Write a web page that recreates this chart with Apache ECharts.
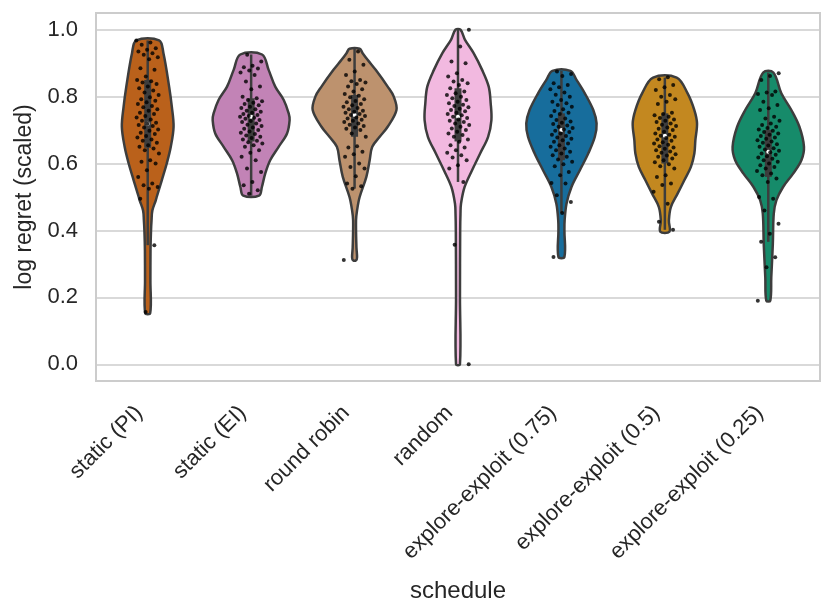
<!DOCTYPE html>
<html>
<head>
<meta charset="utf-8">
<script src="https://cdn.jsdelivr.net/npm/echarts@6/dist/echarts.min.js"></script>
<style>
  html, body { margin: 0; padding: 0; background: #fff; }
  #chart { width: 831px; height: 616px; }
</style>
</head>
<body>
<div id="chart"></div>
<script>
// categories of the x axis
const categories = ['static (PI)', 'static (EI)', 'round robin', 'random',
  'explore-exploit (0.75)', 'explore-exploit (0.5)', 'explore-exploit (0.25)']

const yTicks = [0.0, 0.2, 0.4, 0.6, 0.8, 1.0]

const colors = ['#ba611b', '#c283b6', '#bd926e', '#f2b9e0', '#176d9c', '#c38820', '#168b6a']

// violin outline: [value, half width as share of the band]
const profilePI = [[0.153, 0.024], [0.25, 0.026], [0.34, 0.027], [0.40, 0.032], [0.43, 0.037], [0.46, 0.045],
  [0.49, 0.078], [0.50, 0.087], [0.55, 0.136], [0.60, 0.184], [0.65, 0.223], [0.71, 0.250], [0.77, 0.233],
  [0.83, 0.207], [0.93, 0.152], [0.968, 0.110]]
const profileEI = [[0.504, 0.076], [0.53, 0.104], [0.57, 0.136], [0.61, 0.184], [0.65, 0.266], [0.69, 0.347],
  [0.73, 0.372], [0.75, 0.363], [0.79, 0.315], [0.83, 0.233], [0.88, 0.169], [0.926, 0.105]]
const profileRR = [[0.311, 0.015], [0.32, 0.024], [0.35, 0.018], [0.43, 0.014], [0.46, 0.024], [0.50, 0.049],
  [0.56, 0.114], [0.61, 0.146], [0.65, 0.171], [0.68, 0.243], [0.71, 0.320], [0.76, 0.405], [0.80, 0.379],
  [0.83, 0.320], [0.88, 0.204], [0.91, 0.126], [0.93, 0.078], [0.943, 0.049]]
const profileRand = [[0.0, 0.019], [0.2, 0.019], [0.40, 0.021], [0.45, 0.024], [0.48, 0.029], [0.53, 0.064],
  [0.58, 0.136], [0.63, 0.214], [0.68, 0.291], [0.73, 0.323], [0.78, 0.316], [0.83, 0.297], [0.88, 0.233],
  [0.93, 0.151], [0.97, 0.068], [1.0, 0.024]]
const profileEE75 = [[0.321, 0.029], [0.40, 0.029], [0.43, 0.031], [0.48, 0.049], [0.53, 0.097], [0.58, 0.178],
  [0.63, 0.259], [0.68, 0.323], [0.72, 0.340], [0.76, 0.308], [0.81, 0.226], [0.85, 0.146], [0.877, 0.087]]
const profileEE50 = [[0.396, 0.044], [0.43, 0.039], [0.47, 0.058], [0.51, 0.123], [0.55, 0.188], [0.59, 0.252],
  [0.63, 0.285], [0.67, 0.295], [0.72, 0.311], [0.76, 0.285], [0.81, 0.220], [0.857, 0.114]]
const profileEE25 = [[0.19, 0.019], [0.26, 0.029], [0.36, 0.044], [0.45, 0.053], [0.49, 0.078], [0.53, 0.143],
  [0.57, 0.240], [0.61, 0.320], [0.65, 0.345], [0.71, 0.301], [0.76, 0.223], [0.81, 0.126], [0.872, 0.049]]
const profiles = [profilePI, profileEI, profileRR, profileRand, profileEE75, profileEE50, profileEE25]

// inner box: [low whisker, q1, median, q3, high whisker]
const boxStats = [
  [0.356, 0.647, 0.719, 0.850, 0.968],
  [0.504, 0.666, 0.740, 0.795, 0.926],
  [0.525, 0.680, 0.745, 0.805, 0.943],
  [0.545, 0.666, 0.740, 0.825, 1.000],
  [0.452, 0.610, 0.700, 0.750, 0.877],
  [0.402, 0.600, 0.683, 0.750, 0.857],
  [0.366, 0.560, 0.635, 0.700, 0.872],
]

// strip points
const pointsPI = [0.968, 0.962, 0.955, 0.945, 0.940, 0.935, 0.930, 0.925, 0.918, 0.912, 0.885, 0.880, 0.860,
  0.850, 0.846, 0.842, 0.838, 0.830, 0.825, 0.818, 0.812, 0.805, 0.798, 0.792, 0.788, 0.783, 0.778, 0.772,
  0.768, 0.762, 0.758, 0.752, 0.748, 0.742, 0.738, 0.732, 0.728, 0.722, 0.719, 0.715, 0.712, 0.708, 0.702,
  0.698, 0.692, 0.688, 0.682, 0.678, 0.672, 0.668, 0.662, 0.655, 0.650, 0.645, 0.640, 0.630, 0.610, 0.605,
  0.600, 0.580, 0.560, 0.540, 0.535, 0.530, 0.525, 0.495, 0.356, 0.156]
const pointsEI = [0.925, 0.905, 0.892, 0.888, 0.884, 0.878, 0.872, 0.865, 0.845, 0.830, 0.822, 0.800, 0.795,
  0.790, 0.786, 0.782, 0.778, 0.774, 0.770, 0.766, 0.762, 0.758, 0.755, 0.752, 0.748, 0.745, 0.742, 0.740,
  0.737, 0.734, 0.730, 0.727, 0.724, 0.720, 0.716, 0.712, 0.708, 0.704, 0.700, 0.696, 0.692, 0.688, 0.684,
  0.680, 0.676, 0.672, 0.668, 0.664, 0.660, 0.655, 0.650, 0.640, 0.632, 0.620, 0.610, 0.585, 0.575, 0.545,
  0.535, 0.520, 0.510]
const pointsRR = [0.935, 0.910, 0.895, 0.875, 0.865, 0.850, 0.846, 0.842, 0.838, 0.830, 0.822, 0.815, 0.808,
  0.803, 0.798, 0.792, 0.787, 0.783, 0.778, 0.774, 0.770, 0.766, 0.762, 0.758, 0.755, 0.752, 0.748, 0.745,
  0.742, 0.738, 0.735, 0.731, 0.728, 0.724, 0.720, 0.716, 0.712, 0.708, 0.704, 0.700, 0.690, 0.680, 0.652,
  0.648, 0.635, 0.628, 0.620, 0.600, 0.590, 0.585, 0.562, 0.540, 0.532, 0.525, 0.312]
const pointsRand = [1.000, 0.950, 0.905, 0.900, 0.870, 0.860, 0.850, 0.845, 0.840, 0.835, 0.825, 0.815, 0.810,
  0.805, 0.800, 0.795, 0.790, 0.785, 0.780, 0.776, 0.772, 0.768, 0.764, 0.760, 0.756, 0.752, 0.748, 0.744,
  0.740, 0.736, 0.732, 0.728, 0.724, 0.720, 0.715, 0.710, 0.705, 0.700, 0.695, 0.690, 0.685, 0.680, 0.672,
  0.665, 0.655, 0.648, 0.640, 0.632, 0.625, 0.618, 0.610, 0.595, 0.585, 0.545, 0.357, 0.000]
const pointsEE75 = [0.875, 0.868, 0.862, 0.840, 0.835, 0.828, 0.822, 0.812, 0.806, 0.800, 0.790, 0.785, 0.780,
  0.775, 0.770, 0.762, 0.757, 0.752, 0.748, 0.742, 0.735, 0.730, 0.726, 0.722, 0.718, 0.714, 0.710, 0.706,
  0.702, 0.698, 0.694, 0.690, 0.686, 0.682, 0.678, 0.674, 0.670, 0.665, 0.660, 0.655, 0.650, 0.645, 0.640,
  0.635, 0.630, 0.625, 0.620, 0.612, 0.605, 0.598, 0.592, 0.575, 0.565, 0.542, 0.540, 0.505, 0.485, 0.452, 0.321]
const pointsEE50 = [0.858, 0.852, 0.835, 0.828, 0.820, 0.805, 0.800, 0.792, 0.785, 0.778, 0.752, 0.748, 0.744,
  0.740, 0.736, 0.732, 0.728, 0.724, 0.720, 0.716, 0.712, 0.708, 0.704, 0.700, 0.695, 0.690, 0.686, 0.683,
  0.680, 0.676, 0.672, 0.668, 0.664, 0.660, 0.656, 0.652, 0.648, 0.644, 0.640, 0.636, 0.632, 0.628, 0.624,
  0.620, 0.615, 0.610, 0.604, 0.598, 0.592, 0.585, 0.565, 0.560, 0.540, 0.536, 0.516, 0.480, 0.426, 0.402]
const pointsEE25 = [0.870, 0.862, 0.850, 0.815, 0.812, 0.808, 0.805, 0.785, 0.775, 0.765, 0.760, 0.740, 0.735,
  0.728, 0.720, 0.715, 0.710, 0.706, 0.702, 0.698, 0.694, 0.690, 0.686, 0.682, 0.678, 0.674, 0.670, 0.666,
  0.662, 0.658, 0.654, 0.650, 0.646, 0.642, 0.638, 0.634, 0.630, 0.626, 0.622, 0.618, 0.614, 0.610, 0.605,
  0.600, 0.595, 0.590, 0.585, 0.578, 0.570, 0.565, 0.555, 0.545, 0.500, 0.495, 0.460, 0.420, 0.390, 0.366,
  0.320, 0.290, 0.190]
const points = [pointsPI, pointsEI, pointsRR, pointsRand, pointsEE75, pointsEE50, pointsEE25]

const FONT = 'Liberation Sans, Arial, sans-serif'
const EDGE = '#3d3d3d'
const JITTER = 0.22

// 抖动：按序号给一个固定偏移
function jitter(k) {
  return ((k * 0.618034) % 1 - 0.5) * JITTER
}

const stripData = []
points.forEach((vals, i) => {
  vals.forEach((v, k) => {
    stripData.push([i + jitter(k + i * 7), v])
  })
})

function renderViolin(params, api) {
  const i = api.value(0)
  const prof = profiles[i]
  const band = api.size([1, 0])[0]
  const right = []
  const left = []
  prof.forEach(([v, w]) => {
    const p = api.coord([i, v])
    right.push([p[0] + w * band, p[1]])
    left.unshift([p[0] - w * band, p[1]])
  })
  const [lo, q1, med, q3, hi] = boxStats[i]
  const pLo = api.coord([i, lo])
  const pHi = api.coord([i, hi])
  const pQ1 = api.coord([i, q1])
  const pQ3 = api.coord([i, q3])
  const pMed = api.coord([i, med])
  const boxW = 7
  return {
    type: 'group',
    children: [
      {
        type: 'polygon',
        shape: {points: right.concat(left), smooth: 0.35},
        style: {fill: colors[i], stroke: EDGE, lineWidth: 2.5}
      },
      {
        type: 'line',
        shape: {x1: pLo[0], y1: pLo[1], x2: pHi[0], y2: pHi[1]},
        style: {stroke: EDGE, lineWidth: 2.5}
      },
      {
        type: 'rect',
        shape: {x: pQ3[0] - boxW / 2, y: pQ3[1], width: boxW, height: pQ1[1] - pQ3[1]},
        style: {fill: EDGE}
      },
      {
        type: 'circle',
        shape: {cx: pMed[0], cy: pMed[1], r: 2},
        style: {fill: '#ffffff'}
      }
    ]
  }
}

const chart = echarts.init(document.getElementById('chart'))

chart.setOption({
  animation: false,
  backgroundColor: '#ffffff',
  grid: {
    left: 96, top: 13, width: 724, height: 368,
    show: true, borderColor: '#cccccc', borderWidth: 2,
    outerBoundsMode: 'none'
  },
  xAxis: [
    {
      type: 'category',
      data: categories,
      boundaryGap: true,
      axisLine: {show: false},
      axisTick: {show: false},
      axisLabel: {
        rotate: 45, margin: 20, padding: [0, 12, 0, 0],
        color: '#262626', fontSize: 22, fontFamily: FONT
      },
      name: 'schedule',
      nameLocation: 'middle',
      nameGap: 198,
      nameTextStyle: {color: '#262626', fontSize: 24, fontFamily: FONT}
    },
    {
      type: 'value',
      min: -0.5,
      max: 6.5,
      show: false
    }
  ],
  yAxis: {
    type: 'value',
    min: -0.05,
    max: 1.05,
    axisLine: {show: false},
    axisTick: {show: false, customValues: yTicks},
    axisLabel: {
      customValues: yTicks,
      margin: 18,
      color: '#262626', fontSize: 22, fontFamily: FONT,
      formatter: v => v.toFixed(1)
    },
    splitLine: {show: true, lineStyle: {color: '#cccccc', width: 1.5}},
    name: 'log regret (scaled)',
    nameLocation: 'middle',
    nameGap: 60,
    nameTextStyle: {color: '#262626', fontSize: 23, fontFamily: FONT}
  },
  series: [
    {
      type: 'custom',
      xAxisIndex: 1,
      renderItem: renderViolin,
      data: categories.map((c, i) => [i, boxStats[i][2]]),
      encode: {x: 0, y: 1},
      z: 2
    },
    {
      type: 'scatter',
      xAxisIndex: 1,
      data: stripData,
      symbolSize: 4,
      itemStyle: {color: '#000000'},
      z: 3
    }
  ]
})
</script>
</body>
</html>
